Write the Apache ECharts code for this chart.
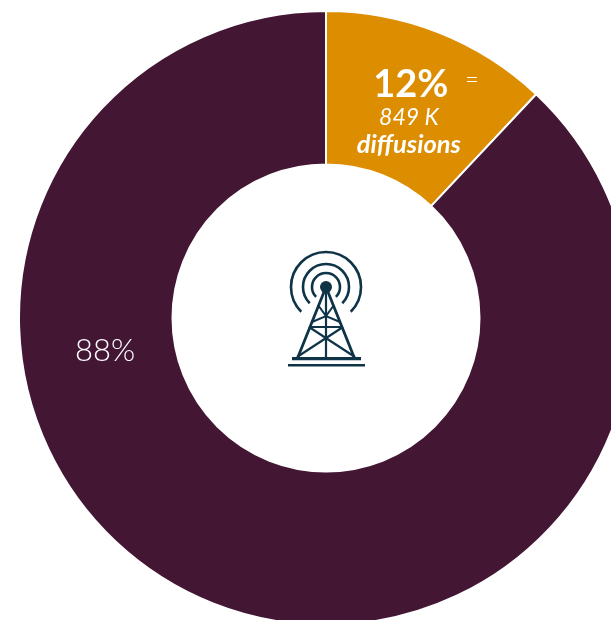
<!DOCTYPE html>
<html><head><meta charset="utf-8">
<style>html,body{margin:0;padding:0;background:#fff}#c{width:611px;height:620px}</style>
<script src="https://cdn.jsdelivr.net/npm/echarts@6/dist/echarts.min.js"></script>
</head><body><div id="c"></div>
<script>
const names = ['diffusions', 'autres'];
const values = [12, 88];
const colors = ['#DD8D00', '#431634'];
const ink = '#0F3347';
const font = 'Lato';
const cx = 326, cy = 287;

function arc(r, w) {
  return {type:'arc', z:10, shape:{cx:cx, cy:cy, r:r, startAngle:Math.PI*0.75, endAngle:Math.PI*0.25, clockwise:true},
    style:{stroke:ink, lineWidth:w, fill:null}};
}
function line(pts, w) {
  return {type:'polyline', z:10, shape:{points:pts}, style:{stroke:ink, lineWidth:w||2, fill:null}};
}
const chart = echarts.init(document.getElementById('c'), null, {renderer:'canvas'});
chart.setOption({
  animation:false,
  series:[{
    type:'pie', center:[326,318], radius:[153.5,307], startAngle:90, clockwise:true,
    itemStyle:{borderColor:'#fff', borderWidth:2},
    emphasis:{disabled:true},
    labelLine:{show:false},
    data:[
      {name:names[0], value:values[0], itemStyle:{color:colors[0]},
       label:{show:true, position:'inside', offset:[-3,11], align:'center', color:'#fff',
         formatter:'{big|12%}\n{it|849 K}\n{bi|diffusions}',
         rich:{
           big:{fontFamily:font, fontSize:38, fontWeight:700, color:'#fff', lineHeight:38, padding:[0,0,0,4]},
           it:{fontFamily:font, fontSize:23, fontStyle:'italic', fontWeight:400, color:'#fff', lineHeight:27},
           bi:{fontFamily:font, fontSize:25.5, fontStyle:'italic', fontWeight:700, color:'#fff', lineHeight:28}
         }}},
      {name:names[1], value:values[1], itemStyle:{color:colors[1]},
       label:{show:true, position:'inside', offset:[-135,-184], color:'#fff',
         formatter:'88%', fontFamily:font, fontSize:31, fontWeight:300}}
    ]
  }],
  graphic:[
    {type:'text', z:10, left:465, top:68, style:{text:'=', fontFamily:font, fontSize:24, fontWeight:300, fill:'#fff'}},
    {type:'group', silent:true, z:10, children:[
      arc(35,2.6), arc(23,2.6), arc(14,2.6),
      {type:'circle', z:10, shape:{cx:cx, cy:cy, r:6}, style:{fill:ink}},
      line([[298,357],[326,287],[354,357]],2.8),
      line([[326,287],[326,357]],2.2),
      line([[318,305],[326,316],[334,305]],2),
      line([[312,322],[326,316],[340,322]],2),
      line([[309,327],[343,327]],2),
      line([[309,327],[355,357]],2.2),
      line([[343,327],[297,357]],2.2),
      {type:'rect', z:10, shape:{x:292, y:357, width:69, height:3.2}, style:{fill:ink}},
      {type:'rect', z:10, shape:{x:288, y:364, width:77, height:2.6}, style:{fill:ink}}
    ]}
  ]
});
</script></body></html>
